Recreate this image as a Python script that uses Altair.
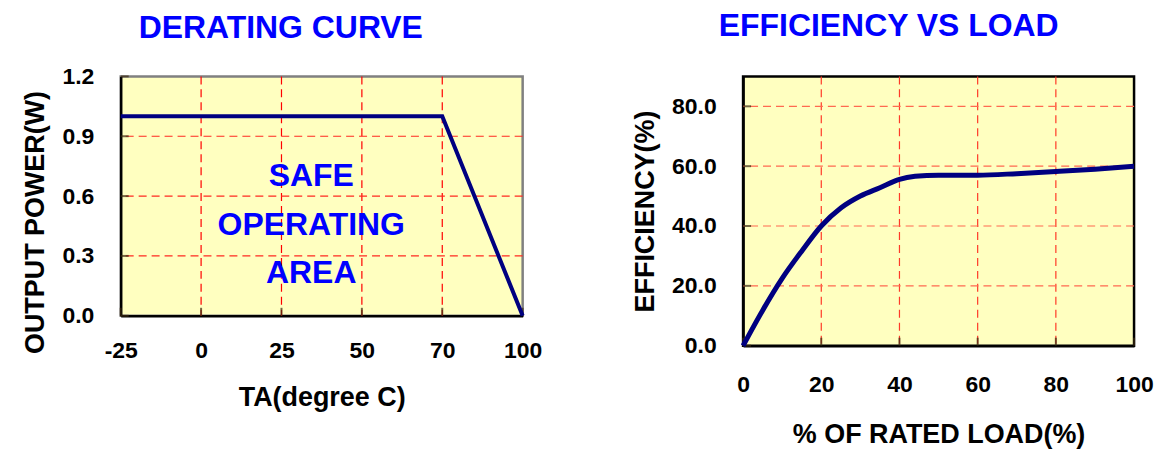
import json
import altair as alt
import pandas as pd

# ---------------- data ----------------
temp_ticks = ["-25", "0", "25", "50", "70", "100"]
derating_temp = ["-25", "70", "100"]
derating_power = [1.0, 1.0, 0.0]
power_ticks = [0.0, 0.3, 0.6, 0.9, 1.2]

soa_lines = ["SAFE", "OPERATING", "AREA"]
soa_pos = [2.37, 2.37, 2.37]
soa_power = [0.70, 0.455, 0.215]

load = [0, 5, 10, 15, 20, 25, 30, 35, 40, 44, 50, 60, 70, 80, 90, 100]
eff = [0, 11.8, 22.5, 31.6, 40, 46, 50, 52.8, 55.6, 56.6, 57.0, 57.0, 57.5, 58.2, 59.0, 60.0]
load_ticks = [0, 20, 40, 60, 80, 100]
eff_ticks = [0, 20, 40, 60, 80]

FONT = "Liberation Sans"
BG = "#ffffc0"
LINE = "#000080"
BLUE = "#0000ff"
TICK = "#3a2a10"


def axis(title, values, **kw):
    return alt.Axis(
        title=title,
        values=values,
        grid=False,
        ticks=False,
        domainColor="black",
        domainWidth=2.5,
        labelFont=FONT,
        labelFontSize=23,
        labelFontWeight="bold",
        labelColor="black",
        labelFlush=False,
        titleFont=FONT,
        titleFontSize=27,
        titleFontWeight="bold",
        titleColor="black",
        **kw,
    )


def grid_layers(xenc, yenc, xfield, yfield, xvals, yvals, vcolor, hcolor, xdom_edges, ydom_edges):
    vdf = pd.DataFrame({xfield: [v for v in xvals if v not in xdom_edges]})
    hdf = pd.DataFrame({yfield: [v for v in yvals if v not in ydom_edges]})
    vrules = alt.Chart(vdf).mark_rule(color=vcolor, strokeDash=[8, 5], strokeWidth=1.2).encode(x=xenc)
    hrules = alt.Chart(hdf).mark_rule(color=hcolor, strokeDash=[8, 5], strokeWidth=1.2).encode(y=yenc)
    xt = pd.DataFrame({xfield: xvals, yfield: [ydom_edges[0]] * len(xvals)})
    yt = pd.DataFrame({yfield: yvals, xfield: [xdom_edges[0]] * len(yvals)})
    xticks = alt.Chart(xt).mark_tick(color=TICK, size=8, thickness=2, yOffset=-4, orient="vertical").encode(x=xenc, y=yenc)
    yticks = alt.Chart(yt).mark_tick(color=TICK, size=8, thickness=2, xOffset=4, orient="horizontal").encode(x=xenc, y=yenc)
    return [vrules, hrules, xticks, yticks]


# ---------------- left: derating curve ----------------
der_df = pd.DataFrame({
    "pos": [temp_ticks.index(t) for t in derating_temp],
    "power": derating_power,
})
soa_df = pd.DataFrame({"pos": soa_pos, "power": soa_power, "txt": soa_lines})
tick_pos = list(range(len(temp_ticks)))

label_expr = json.dumps(temp_ticks) + "[datum.value]"
xl = alt.X(
    "pos:Q",
    scale=alt.Scale(domain=[0, len(temp_ticks) - 1], nice=False, zero=False),
    axis=axis("TA(degree C)", tick_pos, labelExpr=label_expr, labelPadding=24, titlePadding=22),
)
yl = alt.Y(
    "power:Q",
    scale=alt.Scale(domain=[0, 1.2], nice=False),
    axis=axis("OUTPUT POWER(W)", power_ticks, format=".1f", labelPadding=27, titlePadding=12, titleY=146),
)

left_grid = grid_layers(xl, yl, "pos", "power", tick_pos, power_ticks,
                        "#ff0000", "#ff2a20", [0, 5], [0.0, 1.2])
der_line = alt.Chart(der_df).mark_line(color=LINE, strokeWidth=4).encode(x=xl, y=yl)
der_text = alt.Chart(soa_df).mark_text(
    font=FONT, fontSize=32, fontWeight="bold", color=BLUE, baseline="middle", align="center"
).encode(x=xl, y=yl, text="txt:N")

left = alt.layer(*left_grid, der_line, der_text).properties(
    width=403, height=240,
    view=alt.ViewBackground(fill=BG, stroke="#808080", strokeWidth=2.5),
    title=alt.Title("DERATING CURVE", font=FONT, fontSize=32, fontWeight="bold",
                    color=BLUE, anchor="middle", frame="group", offset=21, dx=-41),
)

# ---------------- right: efficiency vs load ----------------
eff_df = pd.DataFrame({"load": load, "eff": eff})
xr = alt.X(
    "load:Q",
    scale=alt.Scale(domain=[0, 100], nice=False),
    axis=axis("% OF RATED LOAD(%)", load_ticks, format="d", labelPadding=28, titlePadding=25),
)
yr = alt.Y(
    "eff:Q",
    scale=alt.Scale(domain=[0, 90], nice=False),
    axis=axis("EFFICIENCY(%)", eff_ticks, format=".1f", labelPadding=27, titlePadding=12),
)
right_grid = grid_layers(xr, yr, "load", "eff", load_ticks, eff_ticks,
                         "#ff3a28", "#ff6a50", [0, 100], [0, 90])
eff_line = alt.Chart(eff_df).mark_line(color=LINE, strokeWidth=5, interpolate="monotone").encode(x=xr, y=yr)

right = alt.layer(*right_grid, eff_line).properties(
    width=392, height=270,
    view=alt.ViewBackground(fill=BG, stroke="black", strokeWidth=2.5),
    title=alt.Title("EFFICIENCY VS LOAD", font=FONT, fontSize=32, fontWeight="bold",
                    color=BLUE, anchor="middle", frame="group", offset=33, dx=-50),
)

chart = alt.hconcat(left, right, spacing=86).properties(
    padding={"left": 12, "top": 0, "right": 0, "bottom": 0},
    background="white",
)

chart.save("out.html", embed_options={"renderer": "svg", "actions": False})
